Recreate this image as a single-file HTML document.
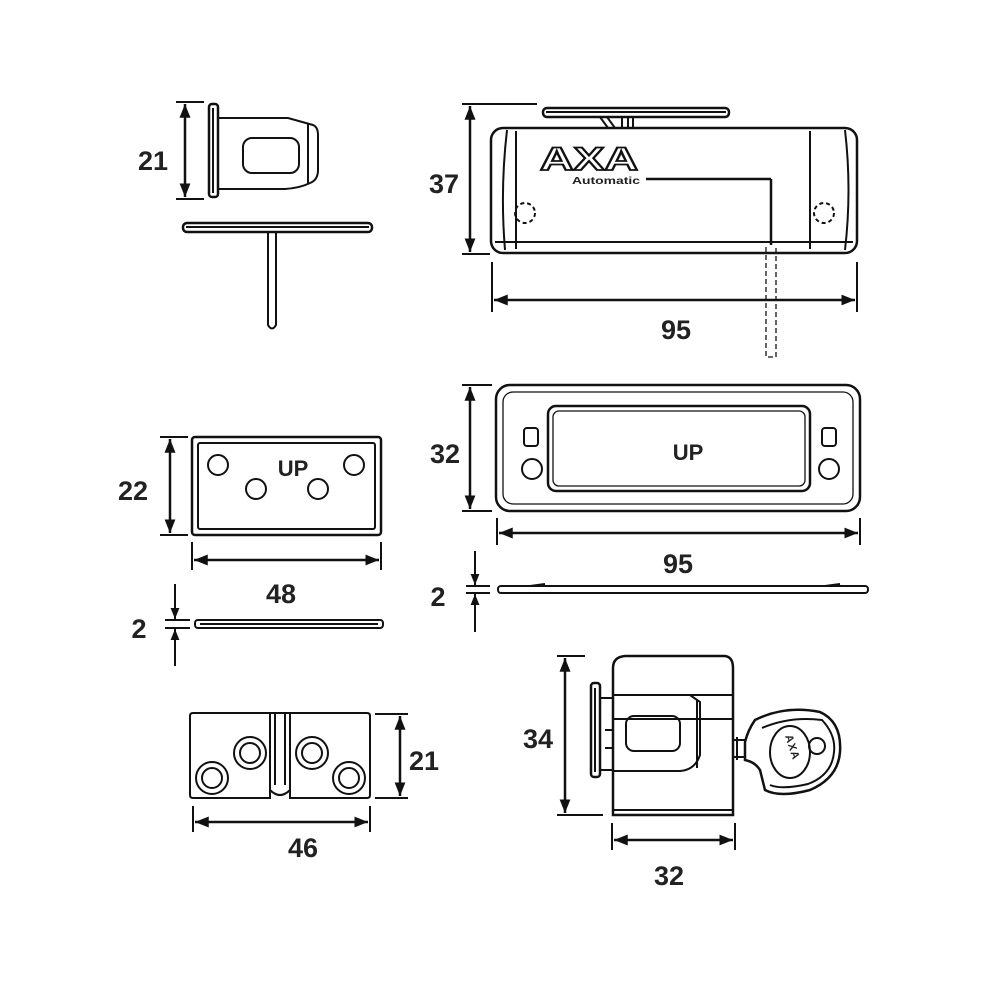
<!DOCTYPE html>
<html><head><meta charset="utf-8"><style>
html,body{margin:0;padding:0;background:#fff}
svg{display:block}
text{font-family:"Liberation Sans",sans-serif;font-weight:bold;fill:#222}
</style></head><body>
<svg width="1000" height="1000" viewBox="0 0 1000 1000" xmlns="http://www.w3.org/2000/svg">
<defs>
<marker id="a" viewBox="0 0 10 10" refX="10" refY="5" markerWidth="5.5" markerHeight="5.5" orient="auto-start-reverse"><path d="M0,1 L10,5 L0,9 z" fill="#111"/></marker>
</defs>
<g fill="none" stroke="#111" stroke-width="2">
<!-- TOP LEFT -->
<line x1="176" y1="102" x2="204" y2="102"/><line x1="176" y1="199" x2="204" y2="199"/>
<line x1="185" y1="104" x2="185" y2="197" marker-start="url(#a)" marker-end="url(#a)" stroke-width="2.5"/>
<rect x="209" y="104" width="9" height="93" rx="3" stroke-width="2.5"/>
<line x1="213" y1="108" x2="213" y2="193"/>
<path d="M218 118 H288 L313 125 Q318 127 318 135 V170 Q318 180 310 183 Q300 188 285 189 H218" />
<line x1="308" y1="124" x2="308" y2="183"/>
<rect x="243" y="138" width="56" height="35" rx="9"/>
<rect x="183" y="223" width="189" height="9" rx="4" stroke-width="2.5"/>
<line x1="186" y1="227" x2="369" y2="227"/>
<path d="M268 233 V325 Q272 332 276 325 V233"/>
<!-- TOP RIGHT -->
<line x1="462" y1="104" x2="537" y2="104"/><line x1="462" y1="254" x2="490" y2="254"/>
<line x1="470" y1="106" x2="470" y2="252" marker-start="url(#a)" marker-end="url(#a)" stroke-width="2.5"/>
<rect x="543" y="108" width="186" height="9" rx="4" stroke-width="2.5"/>
<line x1="546" y1="112" x2="726" y2="112"/>
<path d="M600 117 L608 128 M622 117 V128 M628 117 V128 M633 117 V128 M607 117 L615 128"/>
<rect x="491" y="128" width="366" height="125" rx="12" stroke-width="2.5"/>
<path d="M507 130 Q500 190 505 250 M845 130 Q852 190 845 250"/>
<line x1="516" y1="131" x2="516" y2="249"/><line x1="810" y1="131" x2="810" y2="249"/>
<line x1="495" y1="242" x2="853" y2="242"/>
<line x1="646" y1="179" x2="771" y2="179" stroke-width="2.5"/>
<line x1="771" y1="179" x2="771" y2="245" stroke-width="2.5"/>
<circle cx="525" cy="213" r="10" stroke-dasharray="4 3"/>
<circle cx="824" cy="213" r="10" stroke-dasharray="4 3"/>
<path d="M766 247 V357 H776 V247" stroke-dasharray="5 3" stroke-width="1.3"/>
<line x1="492" y1="262" x2="492" y2="312"/><line x1="857" y1="262" x2="857" y2="312"/>
<line x1="494" y1="300" x2="855" y2="300" marker-start="url(#a)" marker-end="url(#a)" stroke-width="2.5"/>
<!-- MIDDLE RIGHT -->
<line x1="462" y1="385" x2="492" y2="385"/><line x1="462" y1="511" x2="492" y2="511"/>
<line x1="470" y1="387" x2="470" y2="509" marker-start="url(#a)" marker-end="url(#a)" stroke-width="2.5"/>
<rect x="496" y="385" width="364" height="126" rx="14" stroke-width="2.5"/>
<rect x="503" y="392" width="350" height="112" rx="10" stroke-width="1.3"/>
<rect x="548" y="406" width="262" height="85" rx="8" stroke-width="2.5"/>
<rect x="553" y="411" width="252" height="75" rx="6" stroke-width="1.3"/>
<rect x="524" y="428" width="14" height="18" rx="3"/><rect x="822" y="428" width="14" height="18" rx="3"/>
<circle cx="532" cy="469" r="10"/><circle cx="829" cy="469" r="10"/>
<line x1="497" y1="518" x2="497" y2="545"/><line x1="860" y1="518" x2="860" y2="545"/>
<line x1="499" y1="533" x2="858" y2="533" marker-start="url(#a)" marker-end="url(#a)" stroke-width="2.5"/>
<rect x="498" y="586" width="370" height="7" rx="3"/>
<line x1="530" y1="586" x2="545" y2="584"/><line x1="825" y1="586" x2="840" y2="584"/>
<line x1="466" y1="586" x2="490" y2="586"/><line x1="466" y1="593" x2="490" y2="593"/>
<line x1="475" y1="551" x2="475" y2="585" marker-end="url(#a)"/>
<line x1="475" y1="632" x2="475" y2="594" marker-end="url(#a)"/>
<!-- MIDDLE LEFT -->
<line x1="160" y1="437" x2="188" y2="437"/><line x1="160" y1="535" x2="188" y2="535"/>
<line x1="170" y1="439" x2="170" y2="533" marker-start="url(#a)" marker-end="url(#a)" stroke-width="2.5"/>
<rect x="192" y="437" width="189" height="98" rx="3" stroke-width="2.5"/>
<rect x="198" y="443" width="177" height="86" rx="2"/>
<circle cx="218" cy="465" r="10"/><circle cx="354" cy="465" r="10"/>
<circle cx="256" cy="489" r="10"/><circle cx="318" cy="489" r="10"/>
<line x1="192" y1="542" x2="192" y2="570"/><line x1="381" y1="542" x2="381" y2="570"/>
<line x1="194" y1="560" x2="379" y2="560" marker-start="url(#a)" marker-end="url(#a)" stroke-width="2.5"/>
<rect x="195" y="620" width="188" height="8" rx="3"/>
<line x1="200" y1="624" x2="378" y2="624"/>
<line x1="165" y1="620" x2="190" y2="620"/><line x1="165" y1="628" x2="190" y2="628"/>
<line x1="175" y1="584" x2="175" y2="619" marker-end="url(#a)"/>
<line x1="175" y1="666" x2="175" y2="629" marker-end="url(#a)"/>
<!-- BOTTOM LEFT -->
<path d="M190 716 Q190 713 193 713 H270 V798 H193 Q190 798 190 795 Z"/>
<path d="M290 713 H367 Q370 713 370 716 V795 Q370 798 367 798 H290 Z"/>
<path d="M270 713 H290 M270 790 Q280 800 290 790 M275 713 V785 M285 713 V785"/>
<circle cx="250" cy="753" r="16"/><circle cx="250" cy="753" r="10"/>
<circle cx="212" cy="778" r="16"/><circle cx="212" cy="778" r="10"/>
<circle cx="312" cy="753" r="16"/><circle cx="312" cy="753" r="10"/>
<circle cx="349" cy="778" r="16"/><circle cx="349" cy="778" r="10"/>
<line x1="375" y1="714" x2="408" y2="714"/><line x1="375" y1="798" x2="408" y2="798"/>
<line x1="400" y1="716" x2="400" y2="796" marker-start="url(#a)" marker-end="url(#a)" stroke-width="2.5"/>
<line x1="193" y1="806" x2="193" y2="832"/><line x1="370" y1="806" x2="370" y2="832"/>
<line x1="195" y1="822" x2="368" y2="822" marker-start="url(#a)" marker-end="url(#a)" stroke-width="2.5"/>
<!-- BOTTOM RIGHT -->
<line x1="557" y1="656" x2="585" y2="656"/><line x1="557" y1="815" x2="603" y2="815"/>
<line x1="565" y1="658" x2="565" y2="813" marker-start="url(#a)" marker-end="url(#a)" stroke-width="2.5"/>
<rect x="591" y="683" width="9" height="94" rx="3" stroke-width="2.5"/>
<line x1="595" y1="688" x2="595" y2="772"/>
<path d="M600 698 H613 M600 770 H613 M605 730 H613 M605 748 H613"/>
<path d="M613 815 V668 Q613 657 625 656 H725 Q733 657 733 668 V815 Z" stroke-width="2.5"/>
<line x1="613" y1="695" x2="733" y2="695"/>
<line x1="613" y1="719" x2="733" y2="719"/>
<line x1="613" y1="810" x2="733" y2="810"/>
<path d="M613 695 H690 L700 702 V755 Q695 770 680 771 H613"/>
<line x1="697" y1="700" x2="697" y2="768"/>
<rect x="626" y="716" width="54" height="35" rx="8"/>
<path d="M733 740 H745 M733 757 H745 M737 737 V760"/>
<path d="M745 742 Q748 730 755 720 Q785 705 820 712 Q842 722 840 752 Q838 778 810 790 Q780 798 765 790 L760 770 Q755 762 745 760 Z" stroke-width="2.5"/>
<path d="M762 728 Q790 716 822 720 Q836 735 834 752 Q832 775 808 784 Q782 790 770 785"/>
<ellipse cx="790" cy="752" rx="20" ry="26"/>
<circle cx="817" cy="746" r="8"/>
<line x1="612" y1="823" x2="612" y2="850"/><line x1="735" y1="823" x2="735" y2="850"/>
<line x1="614" y1="840" x2="733" y2="840" marker-start="url(#a)" marker-end="url(#a)" stroke-width="2.5"/>
</g>
<!-- labels -->
<g font-size="27">
<text x="153" y="170" text-anchor="middle">21</text>
<text x="444" y="193" text-anchor="middle">37</text>
<text x="676" y="339" text-anchor="middle">95</text>
<text x="445" y="463" text-anchor="middle">32</text>
<text x="678" y="573" text-anchor="middle">95</text>
<text x="438" y="606" text-anchor="middle">2</text>
<text x="133" y="500" text-anchor="middle">22</text>
<text x="281" y="603" text-anchor="middle">48</text>
<text x="139" y="638" text-anchor="middle">2</text>
<text x="424" y="770" text-anchor="middle">21</text>
<text x="303" y="857" text-anchor="middle">46</text>
<text x="538" y="748" text-anchor="middle">34</text>
<text x="669" y="885" text-anchor="middle">32</text>
</g>
<text x="293" y="476" font-size="22" text-anchor="middle">UP</text>
<text x="688" y="460" font-size="22" text-anchor="middle">UP</text>
<text x="540" y="170" font-size="32" stroke="#111" stroke-width="1.8" style="fill:#fff" textLength="98" lengthAdjust="spacingAndGlyphs">AXA</text>
<text x="572" y="184" font-size="10" textLength="68" lengthAdjust="spacingAndGlyphs">Automatic</text>
<text x="0" y="0" font-size="11" transform="translate(785,736) rotate(72)" letter-spacing="1">AXA</text>
</svg>
</body></html>
